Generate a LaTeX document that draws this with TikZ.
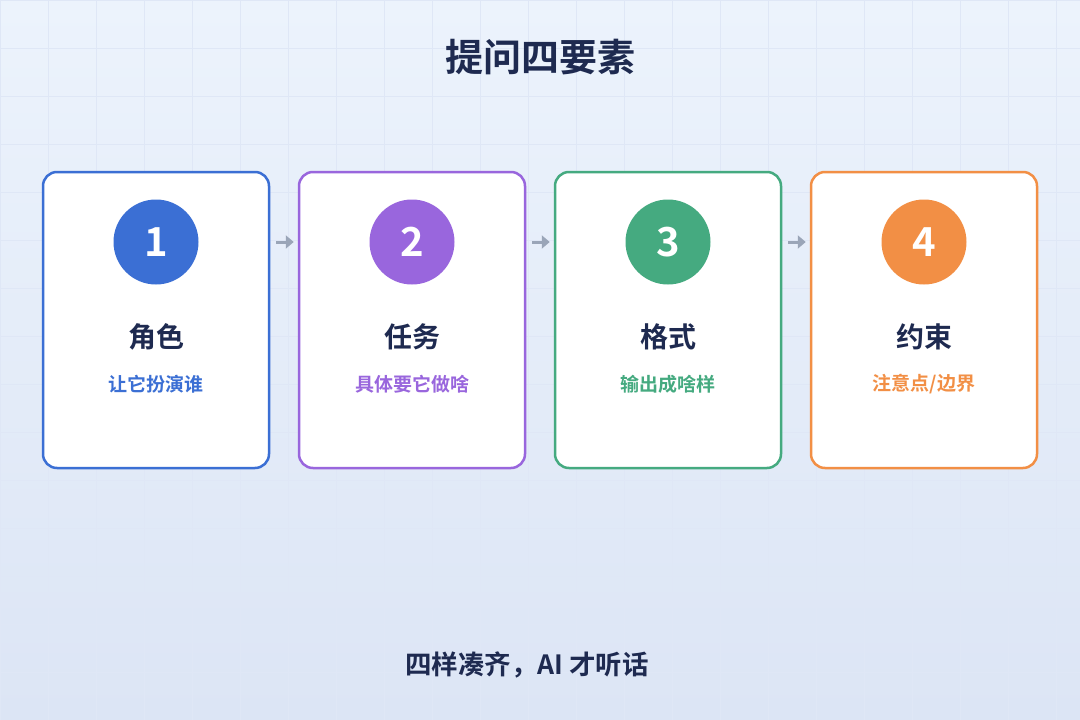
\documentclass[tikz,border=0pt]{standalone}
\usepackage{fontspec}
\setmainfont{Noto Sans CJK SC}
\newfontfamily\cjkb{Noto Sans CJK SC Bold}
\usetikzlibrary{arrows.meta}
\definecolor{bgtop}{HTML}{ECF3FC}
\definecolor{bgbot}{HTML}{DCE5F5}
\definecolor{gridc}{HTML}{DFE7F6}
\definecolor{dark}{HTML}{1E2A50}
\definecolor{cblue}{HTML}{3B6FD4}
\definecolor{cpurple}{HTML}{9966DD}
\definecolor{cgreen}{HTML}{45AA80}
\definecolor{corange}{HTML}{F28F45}
\definecolor{arrowc}{HTML}{9AA5B8}
\tikzset{
  card/.style={draw=#1, line width=2.5pt, fill=white, rounded corners=14pt,
    minimum width=226pt, minimum height=296pt, inner sep=0pt},
  numdot/.style={circle, fill=#1, minimum size=85pt, inner sep=0pt,
    text=white, font=\cjkb\fontsize{40}{42}\selectfont},
  cardtitle/.style={text=dark, font=\cjkb\fontsize{28}{30}\selectfont},
  cardsub/.style={text=#1, font=\cjkb\fontsize{19}{21}\selectfont},
  flow/.style={draw=arrowc, line width=3pt, -{Triangle[length=8pt,width=13pt]},
    shorten <=6pt, shorten >=4pt}
}
\begin{document}
\begin{tikzpicture}[x=1pt,y=-1pt]
\useasboundingbox (0,0) rectangle (1080,720);
\shade[top color=bgtop, bottom color=bgbot] (0,0) rectangle (1080,720);
\foreach \gx in {0,48,...,1080} \draw[gridc, line width=0.8pt] (\gx,0) -- (\gx,720);
\foreach \gy in {0,48,...,720} \draw[gridc, line width=0.8pt] (0,\gy) -- (1080,\gy);
\node[text=dark, font=\cjkb\fontsize{38}{42}\selectfont] (title) at (540,57) {提问四要素};
\foreach \i/\cx/\col/\t/\s in {1/156/cblue/角色/让它扮演谁, 2/412/cpurple/任务/具体要它做啥, 3/668/cgreen/格式/输出成啥样, 4/924/corange/约束/{注意点/边界}} {
  \node[card=\col] (card\i) at (\cx,320) {};
  \node[numdot=\col] (num\i) at (\cx,242) {\i};
  \node[cardtitle] (t\i) at (\cx,337) {\t};
  \node[cardsub=\col] (s\i) at (\cx,384) {\s};
}
\draw[flow] (card1.east |- num1) -- (card2.west |- num2);
\draw[flow] (card2.east |- num2) -- (card3.west |- num3);
\draw[flow] (card3.east |- num3) -- (card4.west |- num4);
\node[text=dark, font=\cjkb\fontsize{26.5}{30}\selectfont] (footer) at (527,665) {四样凑齐，AI 才听话};
\end{tikzpicture}
\end{document}
